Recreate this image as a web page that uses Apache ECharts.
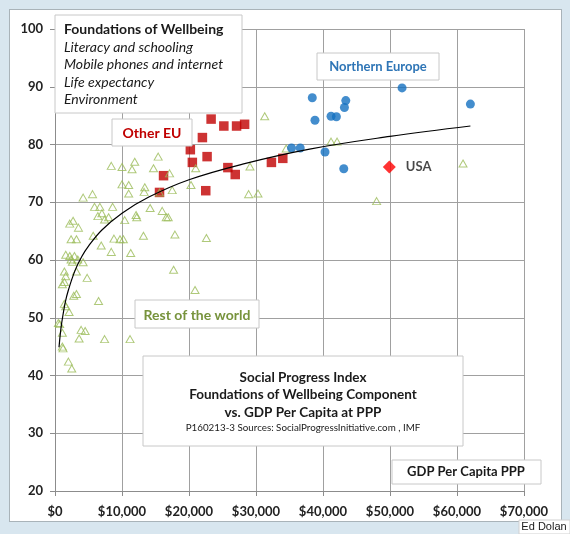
<!DOCTYPE html>
<html><head><meta charset="utf-8">
<script src="https://cdn.jsdelivr.net/npm/echarts@6/dist/echarts.min.js"></script>
<style>
html,body{margin:0;padding:0;background:#d8e6ef;width:570px;height:534px;overflow:hidden;}
#frame{position:absolute;left:9px;top:9px;width:551px;height:511px;background:#fff;border:1px solid #a9b3b9;}
#c{position:absolute;left:0;top:0;width:570px;height:534px;}
</style></head>
<body>
<div id="frame"></div>
<div id="c"></div>
<script>
// ---- data (GDP per capita PPP, Foundations of Wellbeing score) ----
const northernEurope = [[38400,88.1],[51800,89.8],[62000,87.0],[43400,87.6],[43200,86.4],[41200,84.9],[42000,84.8],[38800,84.2],[35300,79.4],[36600,79.4],[40300,78.7],[43100,75.8]];
const otherEU = [[23300,84.4],[25200,83.2],[27100,83.2],[28300,83.5],[22000,81.2],[20200,79.1],[22700,77.9],[20500,76.9],[25800,76.0],[26900,74.8],[32300,76.9],[34000,77.6],[22500,72.0],[16200,74.6],[15600,71.7]];
const usa = [[49900,76.1]];
const restOfWorld = [
 [8400,76.3],[10000,76.1],[11900,77.0],[11500,75.7],[14700,75.9],[15400,77.9],[17100,75.0],[21000,75.9],[31300,84.9],[34500,79.3],
 [41200,80.5],[42100,80.5],[60900,76.7],[29100,76.2],[10000,73.1],[11000,73.0],[11000,71.5],[13400,72.6],[13300,71.8],[17500,72.1],
 [20300,73.0],[4200,70.8],[5600,71.4],[28900,71.4],[30300,71.5],[48000,70.2],[5900,69.2],[6700,69.2],[8600,69.2],[7000,68.1],
 [6400,67.6],[7400,67.0],[8000,67.4],[10400,66.9],[12100,67.8],[12200,67.4],[14200,69.0],[16000,68.5],[16600,67.4],[16900,67.4],
 [2200,66.3],[2700,66.8],[3500,65.6],[2400,63.6],[3200,63.6],[5700,64.2],[8800,63.7],[9700,63.6],[10200,63.6],[13200,64.2],
 [17900,64.4],[22600,63.8],[6900,62.5],[8400,61.4],[11300,61.2],[1600,60.9],[2200,60.7],[2900,60.7],[2400,60.1],[2600,59.7],
 [3400,60.1],[4200,59.6],[1400,58.0],[3200,58.0],[1600,57.2],[4800,56.9],[1400,56.2],[1100,55.8],[17700,58.3],[20900,54.8],
 [2800,53.8],[3200,54.1],[6500,52.9],[1400,52.4],[1600,52.0],[2100,51.0],[500,49.1],[700,48.9],[1100,47.4],[3900,47.9],
 [4500,47.7],[3600,46.4],[7400,46.3],[11200,46.3],[1100,45.0],[1200,44.7],[2000,42.4],[2500,41.2],[15600,71.7]
];
// logarithmic trend line
const trendGdp   = [600,800,1000,1500,2000,3000,4000,5000,7000,10000,14000,20000,28000,38000,50000,62000];
const trendScore = [44.9,47.3,49.1,52.5,54.8,58.2,60.6,62.4,65.2,68.1,70.9,73.9,76.6,79.2,81.4,83.2];
// axis ticks
const xTicks = [0,10000,20000,30000,40000,50000,60000,70000];
const yTicks = [20,30,40,50,60,70,80,90,100];

const FONT = 'Lato, "Open Sans", sans-serif';
const chart = echarts.init(document.getElementById('c'), null, {renderer:'canvas'});

function box(x, y, w, h) {
  return {type:'rect', z:100, shape:{x:x, y:y, width:w, height:h},
    style:{fill:'#ffffff', stroke:'#c8c8c8', lineWidth:1}};
}
function txt(x, y, s, font, color, align) {
  return {type:'text', z:101, x:x, y:y,
    style:{text:s, font:font, fill:color||'#1a1a1a', align:align||'center', verticalAlign:'middle'}};
}

chart.setOption({
  backgroundColor:'transparent',
  animation:false,
  grid:{left:55, right:46, top:29, bottom:43, containLabel:false},
  xAxis:{type:'value', min:xTicks[0], max:xTicks[xTicks.length-1], interval:10000,
    axisLine:{show:true, lineStyle:{color:'#8c8c8c', width:1}},
    axisTick:{show:true, length:5, lineStyle:{color:'#8c8c8c'}},
    splitLine:{show:true, lineStyle:{color:'#a0a0a0', width:1}},
    axisLabel:{margin:14, fontFamily:FONT, fontWeight:'bold', fontSize:13, color:'#222222',
      formatter:v=>'$'+v.toLocaleString('en-US')}},
  yAxis:{type:'value', min:yTicks[0], max:yTicks[yTicks.length-1], interval:10,
    axisLine:{show:true, lineStyle:{color:'#8c8c8c', width:1}},
    axisTick:{show:true, length:5, lineStyle:{color:'#8c8c8c'}},
    splitLine:{show:true, lineStyle:{color:'#a0a0a0', width:1}},
    axisLabel:{margin:12, fontFamily:FONT, fontWeight:'bold', fontSize:13, color:'#222222'}},
  series:[
    {name:'Other EU', type:'scatter', data:otherEU, symbol:'rect', symbolSize:9.5, z:3,
      itemStyle:{color:'#c00000'}},
    {name:'Rest of the world', type:'scatter', data:restOfWorld, symbol:'triangle', symbolSize:[8,7], z:4,
      itemStyle:{color:'rgba(255,255,255,0)', borderColor:'#9bbb59', borderWidth:1}},
    {name:'Northern Europe', type:'scatter', data:northernEurope, symbol:'circle', symbolSize:9, z:5,
      itemStyle:{color:'#1470c0'}},
    {name:'USA', type:'scatter', data:usa, symbol:'diamond', symbolSize:13, z:6,
      itemStyle:{color:'#ff0000'},
      label:{show:true, position:'right', distance:10, formatter:'USA', fontFamily:FONT, fontWeight:'bold', fontSize:13, color:'#1a1a1a'}},
    {name:'Trend', type:'line', data:trendGdp.map((g,i)=>[g,trendScore[i]]), smooth:0.4, showSymbol:false, symbol:'none', z:7,
      lineStyle:{color:'#000000', width:1.2}}
  ],
  graphic:[
    box(55,15,187,98),
    txt(64,29,'Foundations of Wellbeing','bold 14px '+FONT,'#1a1a1a','left'),
    txt(64,47,'Literacy and schooling','italic 14px '+FONT,'#1a1a1a','left'),
    txt(64,64,'Mobile phones and internet','italic 14px '+FONT,'#1a1a1a','left'),
    txt(64,82,'Life expectancy','italic 14px '+FONT,'#1a1a1a','left'),
    txt(64,99,'Environment','italic 14px '+FONT,'#1a1a1a','left'),
    box(112,119,80,27),
    txt(152,133,'Other EU','bold 14px '+FONT,'#c00000'),
    box(317,53,122,27),
    txt(378,67,'Northern Europe','bold 13px '+FONT,'#2e75b6'),
    box(135,300,124,28),
    txt(197,315,'Rest of the world','bold 14px '+FONT,'#77933c'),
    box(143,356,320,90),
    txt(303,378,'Social Progress Index','bold 13.5px '+FONT,'#1a1a1a'),
    txt(303,395,'Foundations of Wellbeing Component','bold 13.5px '+FONT,'#1a1a1a'),
    txt(303,413,'vs. GDP Per Capita at PPP','bold 13.5px '+FONT,'#1a1a1a'),
    txt(303,428,'P160213-3 Sources: SocialProgressInitiative.com , IMF','9.8px '+FONT,'#1a1a1a'),
    box(392,460,149,24),
    txt(466,472,'GDP Per Capita PPP','bold 13px '+FONT,'#1a1a1a'),
    {type:'rect', z:100, shape:{x:519, y:520, width:51, height:14}, style:{fill:'#ffffff', stroke:'#d0d0d0', lineWidth:1}},
    txt(544,527,'Ed Dolan','11px "Liberation Sans", Arial, sans-serif','#1a1a1a')
  ]
});
</script>
</body></html>
